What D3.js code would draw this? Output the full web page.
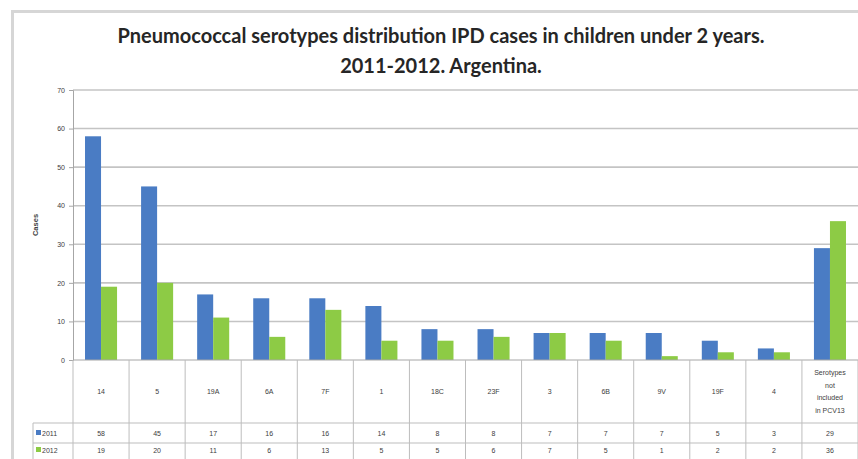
<!DOCTYPE html>
<html>
<head>
<meta charset="utf-8">
<script src="https://cdn.jsdelivr.net/npm/d3@7"></script>
<style>
  html, body { margin: 0; padding: 0; background: #fff; }
  svg { display: block; }
</style>
</head>
<body>
<script>
// Serotype categories along the x axis
const categories = ["14", "5", "19A", "6A", "7F", "1", "18C", "23F", "3", "6B", "9V", "19F", "4",
  "Serotypes not included in PCV13"];
// Cases per serotype, by year
const cases2011 = [58, 45, 17, 16, 16, 14, 8, 8, 7, 7, 7, 5, 3, 29];
const cases2012 = [19, 20, 11, 6, 13, 5, 5, 6, 7, 5, 1, 2, 2, 36];
const seriesNames = ["2011", "2012"];
const yTicks = [0, 10, 20, 30, 40, 50, 60, 70];

const W = 858, H = 459;
const colors = { "2011": "#4a7cc4", "2012": "#8dcb45" };
const series = [
  { name: "2011", values: cases2011 },
  { name: "2012", values: cases2012 }
];

const svg = d3.select("body").append("svg").attr("width", W).attr("height", H);

// chart frame
svg.append("path")
  .attr("d", `M12.5,${H} V11.5 H${W}`)
  .attr("fill", "none").attr("stroke", "#d6d6d6").attr("stroke-width", 3);

// title
const title = svg.append("text")
  .attr("text-anchor", "middle")
  .attr("font-family", "Lato, 'Open Sans', sans-serif")
  .attr("font-weight", "bold").attr("font-size", 20).attr("fill", "#262626");
title.append("tspan").attr("x", 441).attr("y", 43)
  .text("Pneumococcal serotypes distribution IPD cases in children under 2 years.");
title.append("tspan").attr("x", 441).attr("y", 73).text("2011-2012. Argentina.");

const plot = { left: 73, right: 858, top: 90, bottom: 360 };

const x = d3.scaleBand().domain(categories).range([plot.left, plot.right]);
const xSub = d3.scaleBand().domain(seriesNames).range([0, x.bandwidth()])
  .paddingInner(0).paddingOuter(0.75);
const y = d3.scaleLinear().domain([0, 70]).range([plot.bottom, plot.top]);

// horizontal gridlines
svg.append("g").selectAll("line").data(yTicks.filter(t => t > 0)).join("line")
  .attr("x1", plot.left).attr("x2", plot.right)
  .attr("y1", d => y(d)).attr("y2", d => y(d))
  .attr("stroke", "#c4c4c4").attr("stroke-width", 1.6);

// y axis
const yAxis = svg.append("g").attr("transform", `translate(${plot.left},0)`)
  .call(d3.axisLeft(y).tickValues(yTicks).tickSize(4).tickPadding(4));
yAxis.select(".domain").attr("stroke", "#a6a6a6");
yAxis.selectAll(".tick line").attr("stroke", "#a6a6a6");
yAxis.selectAll("text").attr("font-family", "'Liberation Sans', Arial, sans-serif")
  .attr("font-size", 7).attr("fill", "#404040");

svg.append("text")
  .attr("transform", `translate(38,225) rotate(-90)`)
  .attr("text-anchor", "middle")
  .attr("font-family", "'Liberation Sans', Arial, sans-serif")
  .attr("font-size", 7.5).attr("font-weight", "bold").attr("fill", "#404040")
  .text("Cases");

// bars
const groups = svg.append("g").selectAll("g").data(series).join("g")
  .attr("fill", d => colors[d.name]);
groups.selectAll("rect").data(d => d.values.map((v, i) => ({ name: d.name, cat: categories[i], v })))
  .join("rect")
  .attr("x", d => x(d.cat) + xSub(d.name))
  .attr("width", xSub.bandwidth())
  .attr("y", d => y(d.v))
  .attr("height", d => y(0) - y(d.v));

// x axis baseline
svg.append("line").attr("x1", plot.left).attr("x2", plot.right)
  .attr("y1", plot.bottom).attr("y2", plot.bottom)
  .attr("stroke", "#a6a6a6").attr("stroke-width", 1);

// data table below the chart
const tbl = { labelLeft: 33, catBottom: 423, row1Bottom: 443, row2Bottom: 463 };
const gridStroke = "#bdbdbd";
const fontSmall = "'Liberation Sans', Arial, sans-serif";

// vertical separators between categories
const bounds = categories.map(c => x(c)).concat([plot.right]);
svg.append("g").selectAll("line").data(bounds).join("line")
  .attr("x1", d => d).attr("x2", d => d)
  .attr("y1", plot.bottom).attr("y2", tbl.row2Bottom)
  .attr("stroke", gridStroke).attr("stroke-width", 1);
svg.append("line").attr("x1", tbl.labelLeft).attr("x2", tbl.labelLeft)
  .attr("y1", tbl.catBottom).attr("y2", tbl.row2Bottom)
  .attr("stroke", gridStroke);
svg.append("g").selectAll("line").data([tbl.catBottom, tbl.row1Bottom]).join("line")
  .attr("x1", tbl.labelLeft).attr("x2", plot.right)
  .attr("y1", d => d).attr("y2", d => d)
  .attr("stroke", gridStroke);

// category labels (the last one wraps)
const catText = svg.append("g").selectAll("text").data(categories).join("text")
  .attr("text-anchor", "middle")
  .attr("font-family", fontSmall).attr("font-size", 7).attr("fill", "#404040");
catText.each(function (d) {
  const cx = x(d) + x.bandwidth() / 2;
  const lines = d.length > 5 ? ["Serotypes", "not", "included", "in PCV13"] : [d];
  const lh = 12.5;
  const y0 = (plot.bottom + tbl.catBottom) / 2 - (lines.length - 1) * lh / 2 + 2.5;
  d3.select(this).selectAll("tspan").data(lines).join("tspan")
    .attr("x", cx).attr("y", (l, i) => y0 + i * lh).text(l => l);
});

// value rows
const rowY = { "2011": (tbl.catBottom + tbl.row1Bottom) / 2 + 2.5, "2012": (tbl.row1Bottom + tbl.row2Bottom) / 2 - 0.5 };
series.forEach(s => {
  svg.append("g").selectAll("text").data(s.values).join("text")
    .attr("x", (v, i) => x(categories[i]) + x.bandwidth() / 2)
    .attr("y", rowY[s.name])
    .attr("text-anchor", "middle")
    .attr("font-family", fontSmall).attr("font-size", 7).attr("fill", "#404040")
    .text(v => v);
  // legend key and series name
  svg.append("rect")
    .attr("x", tbl.labelLeft + 3).attr("y", rowY[s.name] - 5.5)
    .attr("width", 5).attr("height", 5).attr("fill", colors[s.name]);
  svg.append("text")
    .attr("x", tbl.labelLeft + 9).attr("y", rowY[s.name])
    .attr("font-family", fontSmall).attr("font-size", 7).attr("fill", "#404040")
    .text(s.name);
});
</script>
</body>
</html>
